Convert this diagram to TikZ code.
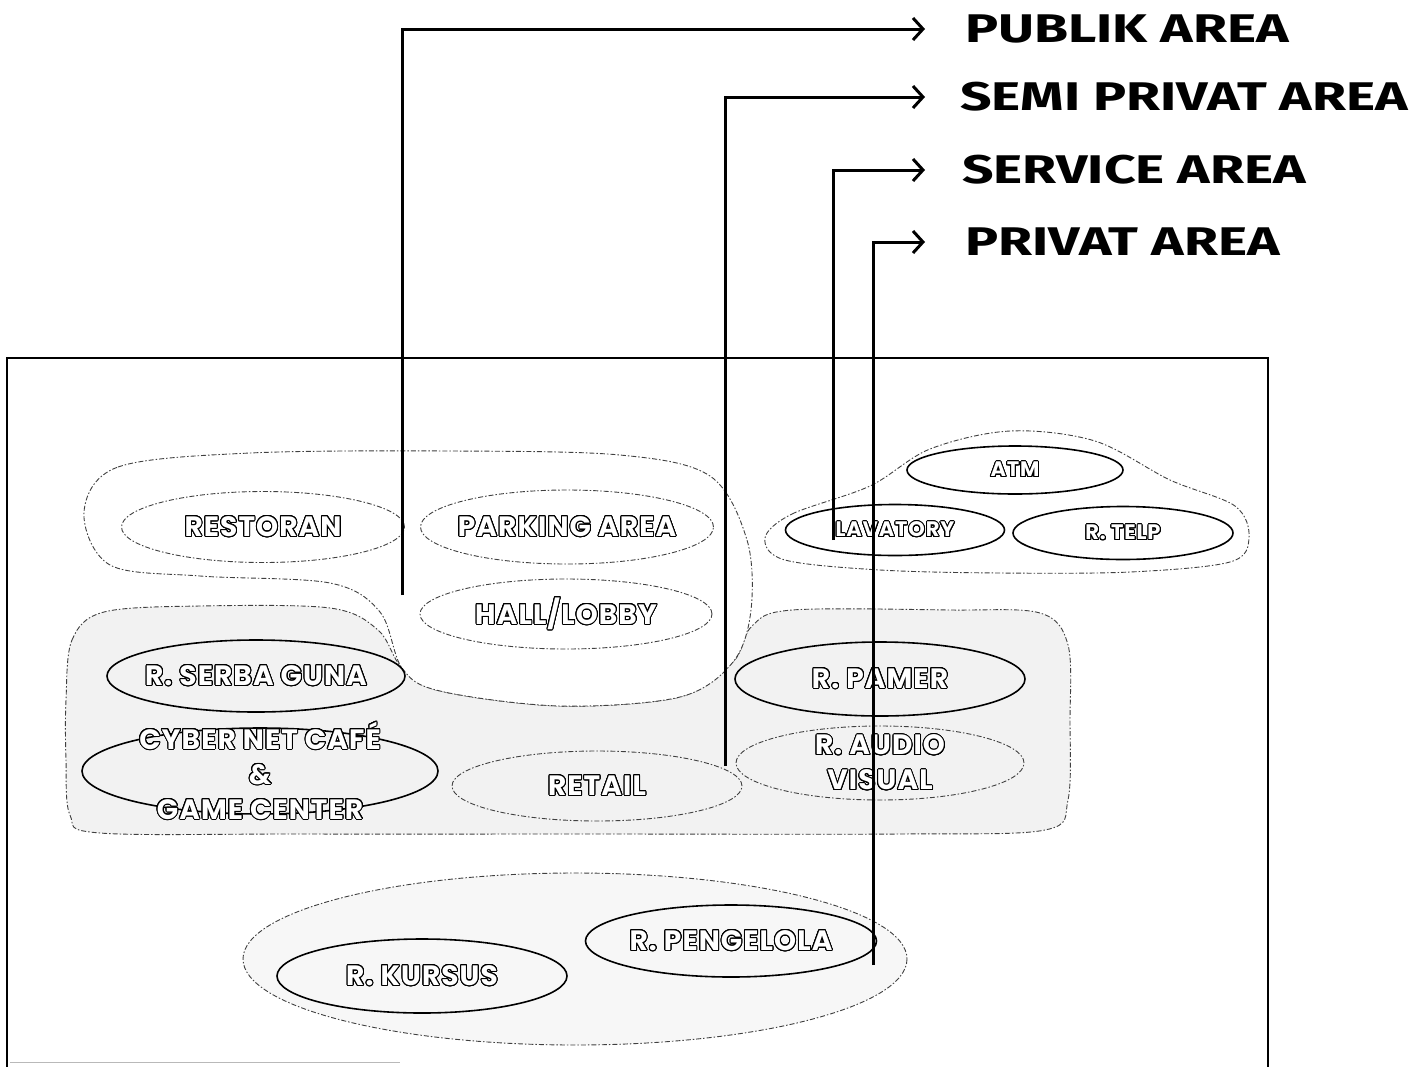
\documentclass[tikz,border=0pt]{standalone}
\usepackage{fontspec}
\usepackage{contour}
\usetikzlibrary{arrows.meta,shapes.geometric}
\newfontfamily\headfont{Fira Sans}
\newfontfamily\roomfont{Poppins}[LetterSpace=4]
\contourlength{1pt}
\contournumber{24}
\newcommand\hollow[1]{{\color{white}\contour{black}{#1}}}
\newcommand\wide[1]{\scalebox{1.38}[1]{#1}}

\tikzset{
  frame/.style={line width=2pt},
  lead/.style={line width=3pt, -{Straight Barb[length=10pt,width=22pt,line width=3pt]}},
  zone/.style={line width=0.9pt, draw=black!75, dash pattern=on 5pt off 2pt on 1.5pt off 2pt},
  room/.style={ellipse, inner xsep=-60pt, inner ysep=-40pt, font=\roomfont\bfseries\fontsize{28}{35}\selectfont, align=center},
  roomsolid/.style={room, draw, line width=1.6pt},
  roomdash/.style={room, draw=black!75, line width=0.9pt, dash pattern=on 5pt off 2pt on 1.5pt off 2pt},
  smallroom/.style={font=\roomfont\bfseries\fontsize{21}{24}\selectfont},
  head/.style={anchor=west, inner xsep=40pt, inner ysep=0pt, font=\headfont\bfseries\fontsize{40}{44}\selectfont}
}

\begin{document}
\begin{tikzpicture}[x=1pt, y=-1pt]
\useasboundingbox (0,0) rectangle (1427,1066);

% site boundary
\draw[frame] (7,1080) -- (7,358) -- (1268,358) -- (1268,1080);
\draw[gray!55, line width=1pt] (10,1062) -- (400,1062);

% semi private zone (shaded)
\draw[zone, fill=black!5] plot[smooth cycle, tension=0.55] coordinates {
  (66,700) (72,640) (104,612) (200,606) (330,608) (378,630) (402,668)
  (440,691) (560,706) (680,697) (733,662) (752,626) (792,610) (950,610)
  (1040,613) (1068,645) (1070,720) (1068,800) (1045,830) (900,834)
  (600,834) (300,834) (100,833) (70,815) (66,760)};

% public zone
\draw[zone, fill=white] plot[smooth cycle, tension=0.55] coordinates {
  (84,512) (118,467) (250,453) (450,451) (620,455) (710,476) (747,540)
  (751,610) (733,662) (680,697) (560,706) (440,691) (402,668) (380,612)
  (330,583) (200,576) (110,565)};

% service zone
\draw[zone] plot[smooth cycle, tension=0.55] coordinates {
  (765,538) (792,514) (870,486) (930,449) (1010,431) (1095,441) (1170,480)
  (1235,506) (1249,538) (1230,562) (1130,572) (1000,573) (880,570) (785,560)};

% private zone
\draw[zone, fill=black!3] (575,959) ellipse [x radius=332, y radius=86];

% rooms
\node[roomdash, minimum width=283pt, minimum height=71pt] (restoran) at (263,527) {\hollow{RESTORAN}};
\node[roomdash, minimum width=293pt, minimum height=74pt] (parking) at (567,527) {\hollow{PARKING AREA}};
\node[roomdash, minimum width=292pt, minimum height=70pt] (hall) at (566,614) {\hollow{HALL/LOBBY}};

\node[roomsolid, smallroom, minimum width=216pt, minimum height=48pt] (atm) at (1015,470) {\hollow{ATM}};
\node[roomsolid, smallroom, minimum width=219pt, minimum height=51pt] (lavatory) at (895,530) {\hollow{LAVATORY}};
\node[roomsolid, smallroom, minimum width=220pt, minimum height=53pt] (telp) at (1123,533) {\hollow{R. TELP}};

\node[roomsolid, minimum width=298pt, minimum height=72pt] (serba) at (256,676) {\hollow{R. SERBA GUNA}};
\node[roomsolid, minimum width=356pt, minimum height=86pt] (cyber) at (260,771)
  {\hollow{CYBER NET CAFÉ}\\\hollow{\&}\\\hollow{GAME CENTER}};
\node[roomdash, minimum width=290pt, minimum height=70pt] (retail) at (597,786) {\hollow{RETAIL}};
\node[roomsolid, minimum width=290pt, minimum height=74pt] (pamer) at (880,679) {\hollow{R. PAMER}};
\node[roomdash, minimum width=288pt, minimum height=74pt] (audio) at (880,763)
  {\hollow{R. AUDIO}\\\hollow{VISUAL}};

\node[roomsolid, minimum width=290pt, minimum height=74pt] (kursus) at (422,976) {\hollow{R. KURSUS}};
\node[roomsolid, minimum width=291pt, minimum height=72pt] (pengelola) at (731,941) {\hollow{R. PENGELOLA}};

% zone legend
\node[head] (publik) at (925,29) {\wide{PUBLIK AREA}};
\node[head, inner xsep=35pt] (semi) at (925,97) {\wide{SEMI PRIVAT AREA}};
\node[head, inner xsep=37pt] (service) at (925,170) {\wide{SERVICE AREA}};
\node[head] (privat) at (925,242) {\wide{PRIVAT AREA}};

% leader feet inside the zones
\coordinate (pubfoot) at (402,595);
\coordinate (semifoot) at (725,766);
\coordinate (servfoot) at (833,540);
\coordinate (privfoot) at (873,965);

\draw[lead] (pubfoot) |- (publik.west);
\draw[lead] (semifoot) |- (semi.west);
\draw[lead] (servfoot) |- (service.west);
\draw[lead] (privfoot) |- (privat.west);
\end{tikzpicture}
\end{document}
